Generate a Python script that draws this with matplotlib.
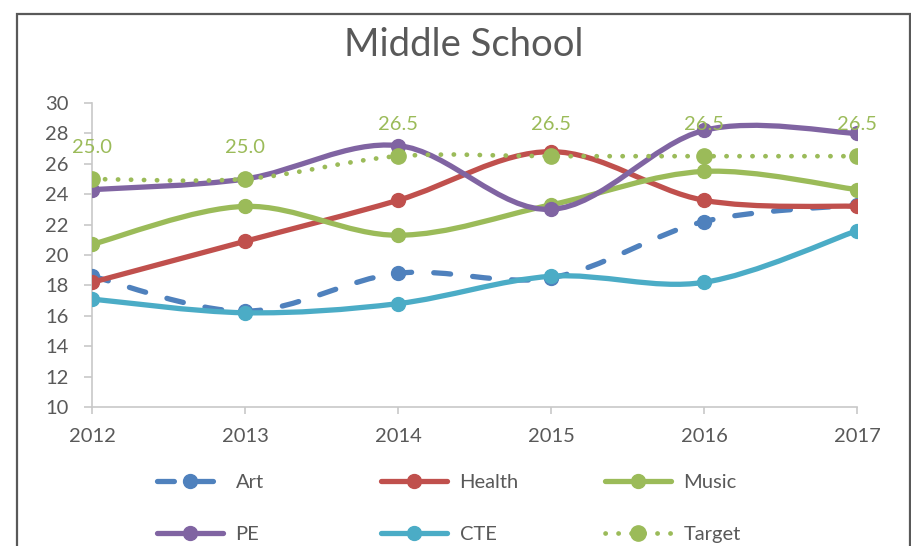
import numpy as np
import matplotlib
matplotlib.use("Agg")
import matplotlib.pyplot as plt
from matplotlib.path import Path
from matplotlib.patches import PathPatch, Rectangle
from matplotlib.lines import Line2D

plt.rcParams['font.family'] = ['Lato', 'DejaVu Sans']

years = [2012, 2013, 2014, 2015, 2016, 2017]
art = [18.6, 16.3, 18.8, 18.5, 22.2, 23.3]
health = [18.2, 20.9, 23.6, 26.8, 23.6, 23.2]
music = [20.7, 23.2, 21.3, 23.3, 25.5, 24.3]
pe = [24.3, 25.0, 27.2, 23.0, 28.2, 28.0]
cte = [17.1, 16.2, 16.8, 18.6, 18.2, 21.6]
target = [25.0, 25.0, 26.5, 26.5, 26.5, 26.5]
series_names = ["Art", "Health", "Music", "PE", "CTE", "Target"]
y_ticks = [10, 12, 14, 16, 18, 20, 22, 24, 26, 28, 30]

colors = {"Art": "#4F81BD", "Health": "#C0504D", "Music": "#9BBB59",
          "PE": "#8064A2", "CTE": "#4BACC6", "Target": "#9BBB59"}
data = {"Art": art, "Health": health, "Music": music, "PE": pe, "CTE": cte, "Target": target}
styles = {"Art": (0, (3.2, 4.2)), "Health": "-", "Music": "-", "PE": "-", "CTE": "-",
          "Target": (0, (0.05, 2.7))}
lws = {"Art": 3.8, "Health": 3.8, "Music": 3.8, "PE": 3.8, "CTE": 3.8, "Target": 3.4}
msz = {"Art": 10, "Health": 10, "Music": 10, "PE": 10, "CTE": 10, "Target": 11}

def smooth_path(xs, ys):
    pts = np.column_stack([xs, ys]).astype(float)
    n = len(pts)
    verts = [pts[0]]
    codes = [Path.MOVETO]
    for i in range(n - 1):
        p0 = pts[i - 1] if i > 0 else pts[i]
        p1 = pts[i]
        p2 = pts[i + 1]
        p3 = pts[i + 2] if i + 2 < n else pts[i + 1]
        c1 = p1 + (p2 - p0) / 6.0
        c2 = p2 - (p3 - p1) / 6.0
        verts += [c1, c2, p2]
        codes += [Path.CURVE4] * 3
    return Path(np.array(verts), codes)

fig = plt.figure(figsize=(9.12, 5.46), dpi=100)
ax = fig.add_axes([92/912, 1-407/546, (857-92)/912, (407-103)/546])

axis_col = "#C8C8C8"
text_col = "#595959"

for k, name in enumerate(series_names):
    c = colors[name]
    p = smooth_path(years, data[name])
    patch = PathPatch(p, facecolor="none", edgecolor=c, lw=lws[name],
                      linestyle=styles[name], zorder=2 + k * 2, capstyle="round",
                      joinstyle="round")
    ax.add_patch(patch)
    ax.plot(years, data[name], linestyle="none", marker="o", markersize=msz[name],
            color=c, markeredgecolor=c, zorder=3 + k * 2)

for x, v in zip(years, target):
    ax.annotate(f"{v:.1f}", (x, v), xytext=(0, 23), textcoords="offset points",
                ha="center", va="center", color="#9BBB59", fontsize=14.5, zorder=20,
                annotation_clip=False)

ax.set_xlim(2012, 2017)
ax.set_ylim(10, 30)
ax.set_yticks(y_ticks)
ax.set_xticks(years)
ax.set_xticklabels([str(y) for y in years])
for s in ["top", "right"]:
    ax.spines[s].set_visible(False)
for s in ["left", "bottom"]:
    ax.spines[s].set_color(axis_col)
    ax.spines[s].set_linewidth(1.2)
ax.tick_params(axis="y", direction="out", length=6, width=1.2, color=axis_col,
               labelsize=14.5, labelcolor=text_col, pad=11)
ax.tick_params(axis="x", direction="out", length=5, width=1.2, color=axis_col,
               labelsize=14.5, labelcolor=text_col, pad=10)
for sp in ax.spines.values():
    sp.set_zorder(1)

fig.text(464/912, 1-45/546, "Middle School", ha="center", va="center",
         fontsize=27.5, color=text_col)

# chart frame
fig.patches.append(Rectangle((17/912, -0.02), (910-17)/912, (546-14)/546 + 0.02,
                             transform=fig.transFigure, fill=False,
                             edgecolor="#595959", lw=1.6))

def handle(name):
    return Line2D([0], [0], color=colors[name], lw=lws[name], linestyle=styles[name],
                  marker="o", markersize=msz[name], dash_capstyle="round",
                  solid_capstyle="round")

cols = [(157, ["Art", "PE"]), (381, ["Health", "CTE"]), (605, ["Music", "Target"])]
for xpx, names in cols:
    leg = fig.legend([handle(n) for n in names], names, loc="upper left",
                     bbox_to_anchor=(xpx/912, 1-474/546), frameon=False,
                     fontsize=14.5, handlelength=3.3, handletextpad=0.6,
                     labelspacing=1.75, borderpad=0, borderaxespad=0, numpoints=1)
    for t in leg.get_texts():
        t.set_color(text_col)

fig.savefig("out.png", dpi=100)
